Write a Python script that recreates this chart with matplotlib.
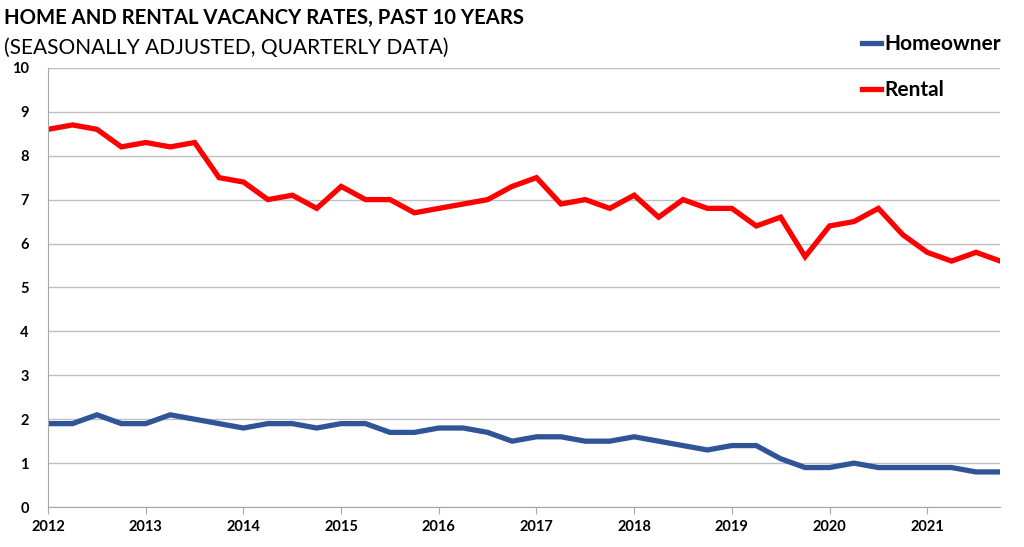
import matplotlib.pyplot as plt
import numpy as np

# quarterly data, 2012 Q1 .. 2021 Q4
years = np.arange(2012, 2022)
quarters = np.arange(2012, 2022, 0.25)

homeowner = [1.9, 1.9, 2.1, 1.9,
             1.9, 2.1, 2.0, 1.9,
             1.8, 1.9, 1.9, 1.8,
             1.9, 1.9, 1.7, 1.7,
             1.8, 1.8, 1.7, 1.5,
             1.6, 1.6, 1.5, 1.5,
             1.6, 1.5, 1.4, 1.3,
             1.4, 1.4, 1.1, 0.9,
             0.9, 1.0, 0.9, 0.9,
             0.9, 0.9, 0.8, 0.8]

rental = [8.6, 8.7, 8.6, 8.2,
          8.3, 8.2, 8.3, 7.5,
          7.4, 7.0, 7.1, 6.8,
          7.3, 7.0, 7.0, 6.7,
          6.8, 6.9, 7.0, 7.3,
          7.5, 6.9, 7.0, 6.8,
          7.1, 6.6, 7.0, 6.8,
          6.8, 6.4, 6.6, 5.7,
          6.4, 6.5, 6.8, 6.2,
          5.8, 5.6, 5.8, 5.6]

plt.rcParams['font.family'] = ['Lato', 'DejaVu Sans']

fig = plt.figure(figsize=(10.24, 5.47), dpi=100)
ax = fig.add_axes([0.047, 0.073, 0.930, 0.803])

ax.plot(quarters, homeowner, color="#2F5597", lw=3.8, label="Homeowner", solid_joinstyle="miter")
ax.plot(quarters, rental, color="#FF0000", lw=3.8, label="Rental", solid_joinstyle="miter")

ax.set_xlim(2012, 2021.75)
ax.set_ylim(0, 10)
ax.set_yticks(range(0, 11))
ax.set_xticks(years)
ax.grid(axis="y", color="#BFBFBF", lw=1)
ax.set_axisbelow(True)

for s in ["top", "right"]:
    ax.spines[s].set_visible(False)
ax.spines["left"].set_color("#A6A6A6")
ax.spines["bottom"].set_color("#A6A6A6")
ax.tick_params(axis="y", length=0, pad=14, labelsize=10.5)
ax.tick_params(axis="x", length=5, color="#A6A6A6", direction="out", pad=4, labelsize=10.5)
for lab in ax.get_xticklabels() + ax.get_yticklabels():
    lab.set_fontweight("bold")

fig.text(0.004, 0.967, "HOME AND RENTAL VACANCY RATES, PAST 10 YEARS", fontsize=14.6,
         fontweight="bold", va="center", ha="left")
fig.text(0.004, 0.913, "(SEASONALLY ADJUSTED, QUARTERLY DATA)", fontsize=15,
         va="center", ha="left")

leg = ax.legend(loc="upper left", bbox_to_anchor=(0.835, 1.12), frameon=False,
                handlelength=0.9, handletextpad=0.15, labelspacing=1.25,
                prop={"weight": "bold", "size": 15})

fig.savefig("out.png", dpi=100)
